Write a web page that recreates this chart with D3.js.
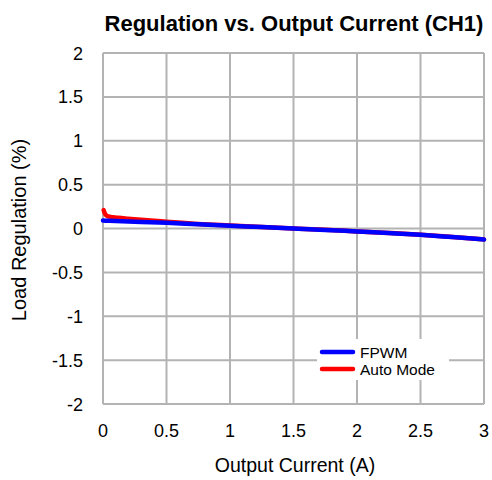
<!DOCTYPE html>
<html>
<head>
<meta charset="utf-8">
<script src="https://cdn.jsdelivr.net/npm/d3@7"></script>
<style>
  html, body { margin: 0; padding: 0; background: #fff; }
  svg { display: block; font-family: "Liberation Sans", Arial, sans-serif; }
</style>
</head>
<body>
<svg id="chart" width="492" height="480"></svg>
<script>
// Load regulation (%) against output current (A)
const currentFPWM = [0, 0.05, 0.1, 0.2, 0.3, 0.5, 0.75, 1, 1.25, 1.5, 1.75, 2, 2.25, 2.5, 2.75, 3];
const regFPWM     = [0.09, 0.088, 0.085, 0.08, 0.075, 0.065, 0.048, 0.032, 0.016, 0, -0.016, -0.034, -0.052, -0.072, -0.098, -0.125];

const currentAuto = [0.005, 0.015, 0.03, 0.05, 0.08, 0.12, 0.2, 0.3, 0.5, 0.75, 1, 1.25, 1.5, 1.75, 2, 2.25, 2.5, 2.75, 3];
const regAuto     = [0.21, 0.17, 0.145, 0.135, 0.128, 0.122, 0.112, 0.1, 0.078, 0.052, 0.034, 0.017, 0.001, -0.015, -0.033, -0.051, -0.071, -0.097, -0.124];

const xTicks = [0, 0.5, 1, 1.5, 2, 2.5, 3];
const yTicks = [2, 1.5, 1, 0.5, 0, -0.5, -1, -1.5, -2];
const seriesNames = ["FPWM", "Auto Mode"];
const seriesColors = ["#0000ff", "#ff0000"];

const svg = d3.select("#chart");
const plot = { left: 103, right: 484, top: 53, bottom: 404 };

const x = d3.scaleLinear().domain([0, 3]).range([plot.left, plot.right]);
const y = d3.scaleLinear().domain([-2, 2]).range([plot.bottom, plot.top]);

// grid
const grid = svg.append("g");
grid.selectAll("line.v").data(xTicks).join("line")
  .attr("x1", d => x(d)).attr("x2", d => x(d))
  .attr("y1", plot.top).attr("y2", plot.bottom)
  .attr("stroke", "#b3b3b3").attr("stroke-width", 2);
grid.selectAll("line.h").data(yTicks).join("line")
  .attr("x1", plot.left).attr("x2", plot.right)
  .attr("y1", d => y(d)).attr("y2", d => y(d))
  .attr("stroke", "#b3b3b3").attr("stroke-width", 2);

// tick labels
const fmt = d => String(d);
svg.append("g").selectAll("text").data(xTicks).join("text")
  .attr("x", d => x(d)).attr("y", 437)
  .attr("text-anchor", "middle").attr("font-size", 18).attr("fill", "#000")
  .text(fmt);
svg.append("g").selectAll("text").data(yTicks).join("text")
  .attr("x", 83).attr("y", d => y(d) + 6.5)
  .attr("text-anchor", "end").attr("font-size", 18).attr("fill", "#000")
  .text(fmt);

// titles
svg.append("text").attr("x", 294).attr("y", 31)
  .attr("text-anchor", "middle").attr("font-size", 22).attr("font-weight", "bold")
  .text("Regulation vs. Output Current (CH1)");
svg.append("text").attr("x", 295).attr("y", 472)
  .attr("text-anchor", "middle").attr("font-size", 19.5)
  .text("Output Current (A)");
svg.append("text").attr("transform", "translate(26,230) rotate(-90)")
  .attr("text-anchor", "middle").attr("font-size", 20)
  .text("Load Regulation (%)");

// curves
const line = d3.line().x(d => x(d[0])).y(d => y(d[1])).curve(d3.curveMonotoneX);
const autoPts = currentAuto.map((c, i) => [c, regAuto[i]]);
const fpwmPts = currentFPWM.map((c, i) => [c, regFPWM[i]]);
svg.append("path").datum(autoPts).attr("d", line)
  .attr("fill", "none").attr("stroke", seriesColors[1]).attr("stroke-width", 4.5)
  .attr("stroke-linejoin", "round").attr("stroke-linecap", "round");
svg.append("path").datum(fpwmPts).attr("d", line)
  .attr("fill", "none").attr("stroke", seriesColors[0]).attr("stroke-width", 4.5)
  .attr("stroke-linejoin", "round").attr("stroke-linecap", "round");

// legend
const legend = svg.append("g").attr("transform", "translate(322,352)");
legend.append("rect").attr("x", -5).attr("y", -13).attr("width", 132).attr("height", 41).attr("fill", "#fff");
seriesNames.forEach((name, i) => {
  legend.append("line").attr("x1", 0).attr("x2", 31)
    .attr("y1", i * 17).attr("y2", i * 17)
    .attr("stroke", seriesColors[i]).attr("stroke-width", 4.5).attr("stroke-linecap", "round");
  legend.append("text").attr("x", 38).attr("y", i * 17 + 5.5)
    .attr("font-size", 15.5).text(name);
});
</script>
</body>
</html>
